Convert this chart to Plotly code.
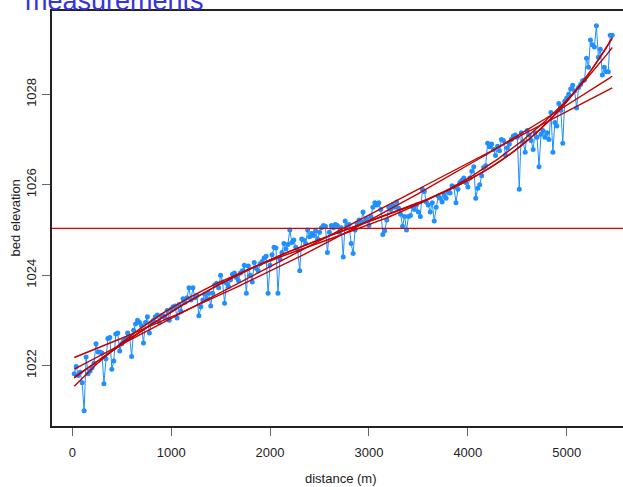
import numpy as np
import plotly.graph_objects as go

distance = [
    20, 40, 60, 80, 100, 120, 140, 160, 180, 200,
    220, 240, 260, 280, 300, 320, 340, 360, 380, 400,
    420, 440, 460, 480, 500, 520, 540, 560, 580, 600,
    620, 640, 660, 680, 700, 720, 740, 760, 780, 800,
    820, 840, 860, 880, 900, 920, 940, 960, 980, 1000,
    1020, 1040, 1060, 1080, 1100, 1120, 1140, 1160, 1180, 1200,
    1220, 1240, 1260, 1280, 1300, 1320, 1340, 1360, 1380, 1400,
    1420, 1440, 1460, 1480, 1500, 1520, 1540, 1560, 1580, 1600,
    1620, 1640, 1660, 1680, 1700, 1720, 1740, 1760, 1780, 1800,
    1820, 1840, 1860, 1880, 1900, 1920, 1940, 1960, 1980, 2000,
    2020, 2040, 2060, 2080, 2100, 2120, 2140, 2160, 2180, 2200,
    2220, 2240, 2260, 2280, 2300, 2320, 2340, 2360, 2380, 2400,
    2420, 2440, 2460, 2480, 2500, 2520, 2540, 2560, 2580, 2600,
    2620, 2640, 2660, 2680, 2700, 2720, 2740, 2760, 2780, 2800,
    2820, 2840, 2860, 2880, 2900, 2920, 2940, 2960, 2980, 3000,
    3020, 3040, 3060, 3080, 3100, 3120, 3140, 3160, 3180, 3200,
    3220, 3240, 3260, 3280, 3300, 3320, 3340, 3360, 3380, 3400,
    3420, 3440, 3460, 3480, 3500, 3520, 3540, 3560, 3580, 3600,
    3620, 3640, 3660, 3680, 3700, 3720, 3740, 3760, 3780, 3800,
    3820, 3840, 3860, 3880, 3900, 3920, 3940, 3960, 3980, 4000,
    4020, 4040, 4060, 4080, 4100, 4120, 4140, 4160, 4180, 4200,
    4220, 4240, 4260, 4280, 4300, 4320, 4340, 4360, 4380, 4400,
    4420, 4440, 4460, 4480, 4500, 4520, 4540, 4560, 4580, 4600,
    4620, 4640, 4660, 4680, 4700, 4720, 4740, 4760, 4780, 4800,
    4820, 4840, 4860, 4880, 4900, 4920, 4940, 4960, 4980, 5000,
    5020, 5040, 5060, 5080, 5100, 5120, 5140, 5160, 5180, 5200,
    5220, 5240, 5260, 5280, 5300, 5320, 5340, 5360, 5380, 5400,
    5420, 5440, 5460,
]

elevation = [
    1021.82, 1021.98, 1021.78, 1021.85, 1021.62, 1021.00, 1022.19, 1021.82, 1021.88, 1021.95,
    1022.05, 1022.48, 1022.30, 1022.30, 1022.28, 1021.60, 1022.15, 1022.60, 1022.62, 1021.92,
    1022.10, 1022.70, 1022.72, 1022.32, 1022.48, 1022.55, 1022.60, 1022.72, 1022.65, 1022.20,
    1022.78, 1022.92, 1023.00, 1022.95, 1022.88, 1022.50, 1022.95, 1023.08, 1022.72, 1022.95,
    1023.00, 1023.08, 1023.12, 1022.95, 1023.10, 1023.10, 1023.05, 1023.22, 1023.00, 1023.25,
    1023.30, 1023.32, 1023.05, 1023.35, 1023.20, 1023.48, 1023.40, 1023.50, 1023.72, 1023.45,
    1023.72, 1023.50, 1023.55, 1023.10, 1023.30, 1023.45, 1023.58, 1023.48, 1023.60, 1023.32,
    1023.60, 1023.78, 1023.82, 1023.72, 1024.00, 1023.85, 1023.38, 1023.82, 1023.75, 1023.90,
    1024.02, 1024.05, 1023.95, 1023.88, 1024.05, 1024.10, 1024.22, 1023.60, 1024.20, 1024.00,
    1023.85, 1024.28, 1024.15, 1024.10, 1024.25, 1024.30, 1024.38, 1024.42, 1023.60, 1024.22,
    1024.45, 1024.62, 1024.60, 1023.60, 1024.35, 1024.50, 1024.70, 1024.58, 1024.68, 1025.00,
    1024.72, 1024.78, 1024.62, 1024.55, 1024.10, 1024.80, 1024.78, 1024.70, 1025.00, 1024.85,
    1024.92, 1024.88, 1024.98, 1024.80, 1024.95, 1025.05, 1025.10, 1025.08, 1024.50, 1024.95,
    1025.10, 1025.05, 1025.12, 1025.10, 1024.95, 1025.05, 1024.40, 1025.20, 1025.10, 1025.12,
    1024.70, 1024.48, 1025.00, 1025.15, 1025.22, 1025.18, 1025.40, 1025.20, 1025.25, 1025.10,
    1025.30, 1025.50, 1025.60, 1025.55, 1025.60, 1025.45, 1024.90, 1024.98, 1025.22, 1025.50,
    1025.45, 1025.55, 1025.50, 1025.62, 1025.48, 1025.35, 1025.08, 1025.30, 1025.00, 1025.30,
    1025.32, 1025.52, 1025.45, 1025.55, 1025.40, 1025.30, 1025.90, 1025.85, 1025.62, 1025.55,
    1025.40, 1025.60, 1025.20, 1025.50, 1025.75, 1025.70, 1025.62, 1025.78, 1025.70, 1025.85,
    1025.82, 1025.98, 1025.95, 1025.60, 1025.90, 1026.05, 1026.10, 1026.15, 1026.05, 1025.95,
    1026.15, 1026.30, 1026.40, 1025.70, 1025.92, 1026.00, 1026.20, 1026.38, 1026.42, 1026.92,
    1026.84, 1026.90, 1026.78, 1026.65, 1026.85, 1026.75, 1027.00, 1026.98, 1026.66, 1026.82,
    1026.90, 1027.00, 1027.08, 1027.10, 1027.05, 1025.90, 1027.15, 1026.95, 1026.72, 1027.20,
    1027.10, 1026.98, 1026.78, 1027.15, 1027.05, 1026.40, 1027.12, 1027.20, 1027.05, 1027.15,
    1027.00, 1027.60, 1026.72, 1027.38, 1027.30, 1027.80, 1027.65, 1026.92, 1027.85, 1027.92,
    1028.00, 1028.12, 1028.20, 1028.08, 1027.70, 1028.15, 1028.22, 1028.30, 1028.32, 1028.80,
    1028.60, 1029.20, 1029.10, 1029.05, 1029.52, 1028.82, 1029.00, 1028.43, 1028.60, 1028.50,
    1028.50, 1029.31, 1029.31,
]

fit_degrees = [1, 2, 3, 4, 5]
x_ticks = [0, 1000, 2000, 3000, 4000, 5000]
y_ticks = [1022, 1024, 1026, 1028]

title_text = "measurements"
x_label = "distance (m)"
y_label = "bed elevation"

FONT = "Liberation Sans, Arial, Helvetica, sans-serif"

x = np.array(distance, dtype=float)
y = np.array(elevation, dtype=float)

fig = go.Figure()
fig.add_trace(go.Scatter(
    x=x, y=y, mode="lines+markers",
    line=dict(color="#1E90FF", width=1),
    marker=dict(color="#1E90FF", size=5),
    showlegend=False, hoverinfo="skip",
))

for deg in fit_degrees:
    p = np.polynomial.Polynomial.fit(x, y, deg)
    fig.add_trace(go.Scatter(
        x=x, y=p(x), mode="lines",
        line=dict(color="#C40000", width=1.4),
        showlegend=False, hoverinfo="skip",
    ))

mean_elev = float(np.mean(y))
fig.add_shape(type="line", xref="paper", x0=0, x1=1, yref="y",
              y0=mean_elev, y1=mean_elev,
              line=dict(color="#D80000", width=1.3))

fig.update_layout(
    width=623, height=487,
    margin=dict(l=52, r=0, t=11, b=61, pad=0),
    paper_bgcolor="white", plot_bgcolor="white",
    font=dict(family=FONT, size=13, color="#222222"),
    showlegend=False,
    xaxis=dict(
        range=[-205, 5569], tickvals=x_ticks, ticktext=[str(v) for v in x_ticks],
        ticks="outside", ticklen=8, tickcolor="#666666", tickwidth=1,
        showline=True, linecolor="#222222", linewidth=1.6, mirror=True,
        showgrid=False, zeroline=False, ticklabelstandoff=6,
        tickfont=dict(family=FONT, size=13, color="#222222"),
    ),
    yaxis=dict(
        range=[1020.663, 1029.844], tickvals=y_ticks, ticktext=[str(v) for v in y_ticks],
        ticks="outside", ticklen=8, tickcolor="#666666", tickwidth=1,
        showline=True, linecolor="#222222", linewidth=1.6, mirror=False,
        showgrid=False, zeroline=False, tickangle=-90, ticklabelstandoff=1,
        tickfont=dict(family=FONT, size=13, color="#222222"),
    ),
    annotations=[
        dict(text=title_text, xref="paper", yref="paper", x=0, y=1,
             xanchor="left", yanchor="bottom", xshift=-29, yshift=-7,
             showarrow=False, font=dict(family=FONT, size=27, color="#3535DA")),
        dict(text=x_label, xref="paper", yref="paper", x=0.5, y=0,
             xanchor="center", yanchor="middle", xshift=3, yshift=-52,
             showarrow=False, font=dict(family=FONT, size=13, color="#222222")),
        dict(text=y_label, xref="paper", yref="paper", x=0, y=0.5,
             xanchor="center", yanchor="middle", xshift=-37, textangle=-90,
             showarrow=False, font=dict(family=FONT, size=13, color="#222222")),
    ],
)

fig.write_html("out.html")
